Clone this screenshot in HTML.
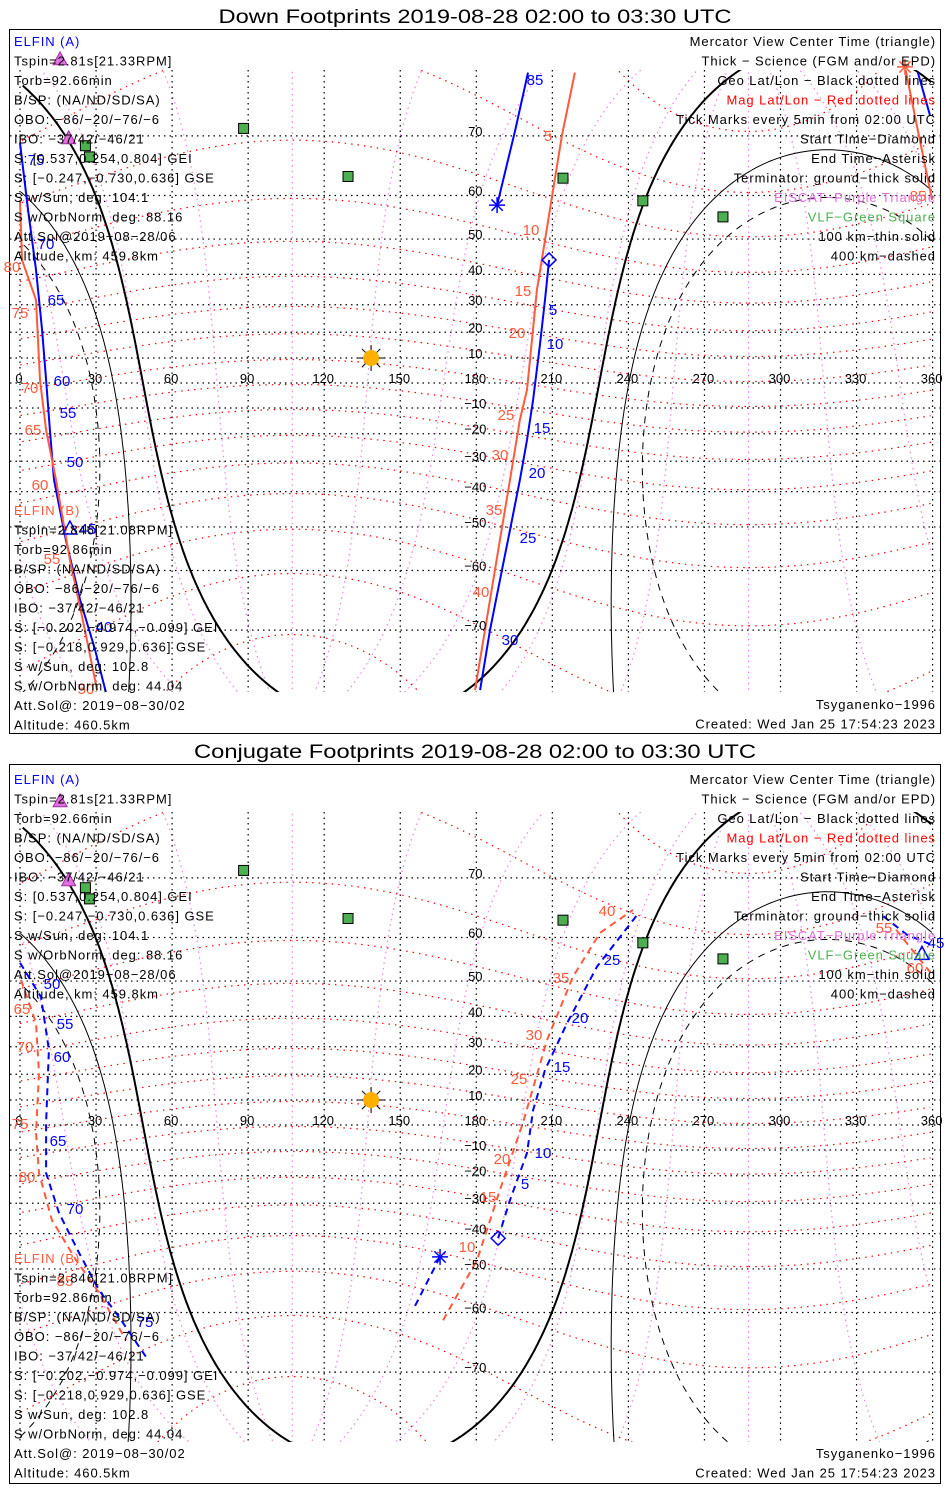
<!DOCTYPE html>
<html><head><meta charset="utf-8">
<style>
html,body{margin:0;padding:0;background:#fff;overflow:hidden;width:950px;height:1500px;}
svg{display:block;font-family:"Liberation Sans",sans-serif;}
.t{font-size:13px;letter-spacing:0.95px;}
.ax{font-size:13px;fill:#000;text-anchor:middle;}
</style></head>
<body>
<svg id="chart" width="950" height="1500" viewBox="0 0 950 1500" xmlns="http://www.w3.org/2000/svg">
<defs>
<clipPath id="clipTop"><rect x="10" y="70" width="930" height="622"/></clipPath>
<clipPath id="clipBot"><rect x="10" y="812" width="930" height="630"/></clipPath>
</defs>
<rect x="0" y="0" width="950" height="1500" fill="#fff"/>
<text x="475" y="23" text-anchor="middle" font-size="19" textLength="513" lengthAdjust="spacingAndGlyphs">Down Footprints 2019-08-28 02:00 to 03:30 UTC</text>
<text x="475" y="758" text-anchor="middle" font-size="19" textLength="562" lengthAdjust="spacingAndGlyphs">Conjugate Footprints 2019-08-28 02:00 to 03:30 UTC</text>
<g id="panelTop"></g>
<g id="panelBot"></g>
<rect x="9.5" y="29.5" width="931" height="704" fill="none" stroke="#000"/>
<rect x="9.5" y="764.5" width="931" height="719" fill="none" stroke="#000"/>
</svg>
<script>
// ---- data ----
const gridLons = [0,30,60,90,120,150,180,210,240,270,300,330,360];
const gridLats = [-70,-60,-50,-40,-30,-20,-10,0,10,20,30,40,50,60,70];
const magLats = [-80,-70,-60,-50,-40,-30,-20,-10,0,10,20,30,40,50,60,70,80];
const magLons = [0,30,60,90,120,150,180,210,240,270,300,330];
const magPole = [80.6, 287.4];
const subSolar = [10.5, 138.5];
const termRadii = [90, 101.5, 109.9];
const vlfSites = [[71.0,88.2],[68.6,25.8],[66.9,27.4],[63.6,129.4],[63.3,214.2],[58.9,245.7],[55.4,277.3]];
const eiscatSites = [[78.2,15.8],[69.6,19.2]];

// top (down footprint) tracks: [lon, lat]
const downA1 = [[208.7,44.3],[207.1,31.7],[205.1,15.1],[202.4,-6.8],[200.0,-22.3],[197.2,-36.3],[193.3,-50.8],[189.3,-61.9],[185.4,-70.0],[181.5,-76.8]];
const downA2 = [[0.0,69.0],[3.2,56.9],[6.3,41.4],[8.7,20.8],[10.3,1.2],[11.8,-18.6],[13.4,-36.3],[18.1,-53.3],[23.7,-65.4],[29.6,-72.5],[33.9,-77.0]];
const downA3 = [[354.2,77.1],[359.0,72.6]];
const downA4 = [[200.4,77.1],[195.3,70.7],[188.2,58.0]];
const downB1 = [[218.9,77.1],[213.8,70.1],[209.9,59.9],[207.1,49.7],[203.9,35.0],[200.0,-2.8],[197.2,-14.6],[193.3,-36.3],[189.3,-53.3],[185.4,-65.4],[179.5,-76.8]];
const downB2 = [[0.0,59.1],[0.8,44.3],[6.3,31.7],[7.9,1.2],[10.3,-18.6],[14.2,-36.3],[19.7,-57.8],[25.6,-70.0],[30.4,-76.8]];
const downB3 = [[349.1,77.6],[354.2,70.7],[359.8,59.1]];

// bottom (conjugate) tracks
const conjA1 = [[188.6,-41.4],[193.3,-28.9],[200.0,-11.2],[202.4,6.0],[207.1,21.6],[215.8,37.9],[227.6,53.6],[243.4,64.2]];
const conjA2 = [[165.7,-46.8],[155.0,-59.5]];
const conjA3 = [[0.0,54.5],[8.3,45.7],[11.4,28.9],[10.3,0.8],[10.3,-19.0],[15.4,-33.3],[23.3,-45.7],[31.2,-55.2],[39.1,-60.9],[49.7,-67.8]];
const conjA4 = [[340.6,64.0],[350.0,60.5],[360.0,58.4]];
const conjB1 = [[166.9,-61.5],[180.3,-47.6],[189.3,-25.3],[198.4,0.8],[207.9,32.3],[218.1,51.1],[228.8,60.9],[241.8,65.1]];
const conjB2 = [[0.4,50.3],[6.3,37.9],[7.5,20.5],[6.3,-3.2],[7.5,-19.0],[12.6,-35.7],[22.1,-47.6],[31.2,-55.8],[41.8,-65.1]];
const conjB3 = [[345.6,61.5],[352.5,57.0],[360.0,51.5]];

const BLUE = "#0000ff", RED = "#ff5a3c";
const panels = [
  {id:"panelTop", y0:383, clip:"clipTop", top:70, bot:692, dash:null,
   tracks:[[downA1,BLUE],[downA2,BLUE],[downA3,BLUE],[downA4,BLUE],[downB1,RED],[downB2,RED],[downB3,RED]],
   diamonds:[[208.7,44.3,BLUE]], stars:[[188.2,58.0,BLUE],[349.1,77.6,RED]], tris:[[19.7,-50.8,BLUE]]},
  {id:"panelBot", y0:1125, clip:"clipBot", top:812, bot:1442, dash:"7 5",
   tracks:[[conjA1,BLUE],[conjA2,BLUE],[conjA3,BLUE],[conjA4,BLUE],[conjB1,RED],[conjB2,RED],[conjB3,RED]],
   diamonds:[[188.6,-41.4,BLUE]], stars:[[165.7,-46.8,BLUE]], tris:[[355.8,56.2,BLUE]]}
];

// ---- scales ----
const NS = "http://www.w3.org/2000/svg";
function px(lon){ return 20 + lon*2.535; }
function py(lat,y0){ const l=Math.max(-86,Math.min(86,lat)); return y0 - 142.4*Math.log(Math.tan(Math.PI/4 + l*Math.PI/360)); }
function mk(tag, attrs, parent){ const e=document.createElementNS(NS,tag); for(const k in attrs) e.setAttribute(k,attrs[k]); parent.appendChild(e); return e; }
function norm(l){ l%=360; if(l<0) l+=360; return l; }
function pathD(pts,y0,wrap){
  let d="", prev=null;
  for(const p of pts){
    let lon = wrap ? norm(p[0]) : p[0];
    if(prev===null || Math.abs(lon-prev)>180) d+="M"; else d+="L";
    d+=px(lon).toFixed(1)+","+py(p[1],y0).toFixed(1)+" ";
    prev=lon;
  }
  return d;
}
const R=Math.PI/180;
function mag2geo(mlat,mlon){
  const th=(90-magPole[0])*R, ph=magPole[1]*R;
  let x=Math.cos(mlat*R)*Math.cos(mlon*R), y=Math.cos(mlat*R)*Math.sin(mlon*R), z=Math.sin(mlat*R);
  let x1=x*Math.cos(th)+z*Math.sin(th), z1=-x*Math.sin(th)+z*Math.cos(th), y1=y;
  let x2=x1*Math.cos(ph)-y1*Math.sin(ph), y2=x1*Math.sin(ph)+y1*Math.cos(ph);
  return [Math.atan2(y2,x2)/R, Math.asin(Math.max(-1,Math.min(1,z1)))/R];
}
function circlePts(lat0,lon0,rad){
  const pts=[]; const a=lat0*R, d=rad*R;
  for(let b=0;b<=360;b+=0.5){
    const br=b*R;
    const lat=Math.asin(Math.sin(a)*Math.cos(d)+Math.cos(a)*Math.sin(d)*Math.cos(br));
    const lon=lon0*R+Math.atan2(Math.sin(br)*Math.sin(d)*Math.cos(a), Math.cos(d)-Math.sin(a)*Math.sin(lat));
    pts.push([lon/R, lat/R]);
  }
  return pts;
}

panels.forEach((P,pi)=>{
  const root=document.getElementById(P.id);
  const g=mk("g",{"clip-path":"url(#"+P.clip+")"},root);
  
  
  magLons.forEach(ml=>{
    const pts=[]; for(let m=-88;m<=88;m+=1) pts.push(mag2geo(m,ml));
    const e=mk("path",{d:pathD(pts,P.y0,true),fill:"none",stroke:"#ee82ee","stroke-width":1.2,"stroke-dasharray":"1.5 4"},g);
    
    
  });
  magLats.forEach(ml=>{
    const pts=[]; for(let m=0;m<=360;m+=1) pts.push(mag2geo(ml,m));
    const e=mk("path",{d:pathD(pts,P.y0,true),fill:"none",stroke:"#ff0000","stroke-width":1.2,"stroke-dasharray":"1.5 5"},g);
    
    
  });
  gridLons.forEach(l=>{
    const e=mk("line",{x1:px(l),x2:px(l),y1:P.top,y2:P.bot,stroke:"#000","stroke-width":1.2,"stroke-dasharray":"1.5 4"},g);
    
    
  });
  gridLats.forEach(l=>{
    const e=mk("line",{x1:10,x2:940,y1:py(l,P.y0),y2:py(l,P.y0),stroke:"#000","stroke-width":1.2,"stroke-dasharray":"1.5 4"},g);
    
    
  });
  termRadii.forEach((r,i)=>{
    const e=mk("path",{d:pathD(circlePts(subSolar[0],subSolar[1],r),P.y0,true),fill:"none",stroke:"#000",
      "stroke-width": i===0?2:1, "stroke-dasharray": i===2?"7 6":"none"},g);
    
    
  });
  gridLons.forEach(l=>{
    const e=mk("text",{x:px(l)-1,y:P.y0,class:"ax"},root); e.textContent=String(l);
    
    
  });
  gridLats.forEach(l=>{
    if(l===0) return;
    const e=mk("text",{x:px(180)-1,y:py(l,P.y0),class:"ax"},root); e.textContent=String(l).replace("-","\u2212");
    
    
  });
  const sx=px(subSolar[1]), sy=py(10.0,P.y0);
  const sg=mk("g",{},g);
  
  
  for(let a=0;a<360;a+=45){ mk("line",{x1:sx,y1:sy,x2:sx+13*Math.cos(a*R),y2:sy+13*Math.sin(a*R),stroke:"#000","stroke-width":1},sg); }
  mk("circle",{cx:sx,cy:sy,r:8,fill:"#ffb000"},sg);
  vlfSites.forEach(s=>{
    const e=mk("rect",{x:px(s[1])-5,y:py(s[0],P.y0)-5,width:10,height:10,fill:"#4caf50",stroke:"#000","stroke-width":1},root);
    
    
  });
  eiscatSites.forEach(s=>{
    const x=px(s[1]), y=py(s[0],P.y0);
    const e=mk("polygon",{points:`${x},${y-8} ${x-7},${y+5} ${x+7},${y+5}`,fill:"#e070e0",stroke:"#a030a0"},root);
    
    
  });
  P.tracks.forEach(t=>{
    const attrs={d:pathD(t[0],P.y0,false),fill:"none",stroke:t[1],"stroke-width":2};
    if(P.dash) attrs["stroke-dasharray"]=P.dash;
    const e=mk("path",attrs,g);
    
    
  });
  P.diamonds.forEach(d=>{
    const x=px(d[0]), y=py(d[1],P.y0);
    const e=mk("polygon",{points:`${x},${y-7} ${x+7},${y} ${x},${y+7} ${x-7},${y}`,fill:"none",stroke:d[2],"stroke-width":1.5},g);
    
    
  });
  P.stars.forEach(d=>{
    const x=px(d[0]), y=py(d[1],P.y0);
    const sg2=mk("g",{stroke:d[2],"stroke-width":1.5},root);
    
    
    for(let a=0;a<180;a+=45){ mk("line",{x1:x-8*Math.cos(a*R),y1:y-8*Math.sin(a*R),x2:x+8*Math.cos(a*R),y2:y+8*Math.sin(a*R)},sg2); }
  });
  P.tris.forEach(d=>{
    const x=px(d[0]), y=py(d[1],P.y0);
    const e=mk("polygon",{points:`${x},${y-9} ${x-7},${y+4} ${x+7},${y+4}`,fill:"none",stroke:d[2],"stroke-width":1.5},g);
    
    
  });
});

// ---- tick (time) labels: [text, x, y, color] ----
const tickLabels = [
 ["85",535,85,BLUE],["5",553,315,BLUE],["10",555,349,BLUE],["15",542,433,BLUE],["20",537,478,BLUE],["25",528,543,BLUE],["30",510,645,BLUE],
 ["75",36,165,BLUE],["70",46,249,BLUE],["65",56,305,BLUE],["60",62,386,BLUE],["55",68,418,BLUE],["50",75,467,BLUE],["45",88,534,BLUE],["40",104,632,BLUE],
 ["5",548,141,RED],["10",531,235,RED],["15",523,296,RED],["20",517,338,RED],["25",506,420,RED],["30",500,460,RED],["35",494,515,RED],["40",481,597,RED],
 ["80",12,272,RED],["75",20,318,RED],["70",30,393,RED],["65",33,435,RED],["60",40,490,RED],["55",52,564,RED],["50",86,694,RED],["85",918,201,RED],
 ["50",52,989,BLUE],["55",65,1029,BLUE],["60",62,1062,BLUE],["65",58,1146,BLUE],["70",75,1214,BLUE],["75",145,1327,BLUE],
 ["5",525,1189,BLUE],["10",543,1158,BLUE],["15",562,1072,BLUE],["20",580,1023,BLUE],["25",612,965,BLUE],["45",936,948,BLUE],
 ["65",22,1014,RED],["70",25,1052,RED],["75",20,1129,RED],["80",27,1182,RED],["85",65,1286,RED],
 ["10",467,1252,RED],["15",488,1202,RED],["20",502,1164,RED],["25",519,1084,RED],["30",534,1040,RED],["35",561,983,RED],["40",607,916,RED],["55",884,933,RED],["60",915,973,RED]
];
const svg=document.getElementById("chart");
tickLabels.forEach(t=>{
  const e=mk("text",{x:t[1],y:t[2],"text-anchor":"middle","font-size":15,fill:t[3]},svg);
  e.textContent=t[0];
  
  
});

// ---- info text ----
const infoA = ["Tspin=2.81s[21.33RPM]","Torb=92.66min","B/SP: (NA/ND/SD/SA)","OBO: \u221286/\u221220/\u221276/\u22126","IBO: \u221237/42/\u221246/21","S: [0.537,0.254,0.804] GEI","S: [\u22120.247,\u22120.730,0.636] GSE","S w/Sun, deg: 104.1","S w/OrbNorm, deg: 88.16","Att.Sol@2019\u221208\u221228/06","Altitude, km: 459.8km"];
const infoB = ["Tspin=2.846[21.08RPM]","Torb=92.86min","B/SP: (NA/ND/SD/SA)","OBO: \u221286/\u221220/\u221276/\u22126","IBO: \u221237/42/\u221246/21","S: [\u22120.202,\u22120.974,\u22120.099] GEI","S: [\u22120.218,0.929,0.636] GSE","S w/Sun, deg: 102.8","S w/OrbNorm, deg: 44.04","Att.Sol@: 2019\u221208\u221230/02","Altitude: 460.5km"];
const legendLines = [["Mercator View Center Time (triangle)","#000"],["Thick \u2212 Science (FGM and/or EPD)","#000"],["Geo Lat/Lon \u2212 Black dotted lines","#000"],["Mag Lat/Lon \u2212 Red dotted lines","#ff0000"],["Tick Marks every 5min from 02:00 UTC","#000"],["Start Time\u2212Diamond","#000"],["End Time\u2212Asterisk","#000"],["Terminator: ground\u2212thick solid","#000"],["EISCAT\u2212Purple Triangle","#e070e0"],["VLF\u2212Green Square","#4caf50"],["100 km\u2212thin solid","#000"],["400 km\u2212dashed","#000"]];
function txt(s,x,y,col,anchor,name){
  const e=mk("text",{x:x,y:y,class:"t",fill:col,"text-anchor":anchor||"start"},svg);
  e.textContent=s;
  
  
}
const blocks = [{a:46,b:515,foot:709},{a:784,b:1263,foot:1458}];
blocks.forEach(B=>{
  txt("ELFIN (A)",14,B.a,BLUE,"start","elfin-a-label");
  infoA.forEach((s,i)=>txt(s,14,B.a+19.5*(i+1),"#000","start","elfin-a-info"));
  txt("ELFIN (B)",14,B.b,RED,"start","elfin-b-label");
  infoB.forEach((s,i)=>txt(s,14,B.b+19.5*(i+1),"#000","start","elfin-b-info"));
  legendLines.forEach((l,i)=>txt(l[0],936,B.a+i*19.5,l[1],"end","legend-entry"));
  txt("Tsyganenko\u22121996",936,B.foot,"#000","end","model-label");
  txt("Created: Wed Jan 25 17:54:23 2023",936,B.foot+19.5,"#000","end","created-timestamp");
});
</script>
</body></html>
